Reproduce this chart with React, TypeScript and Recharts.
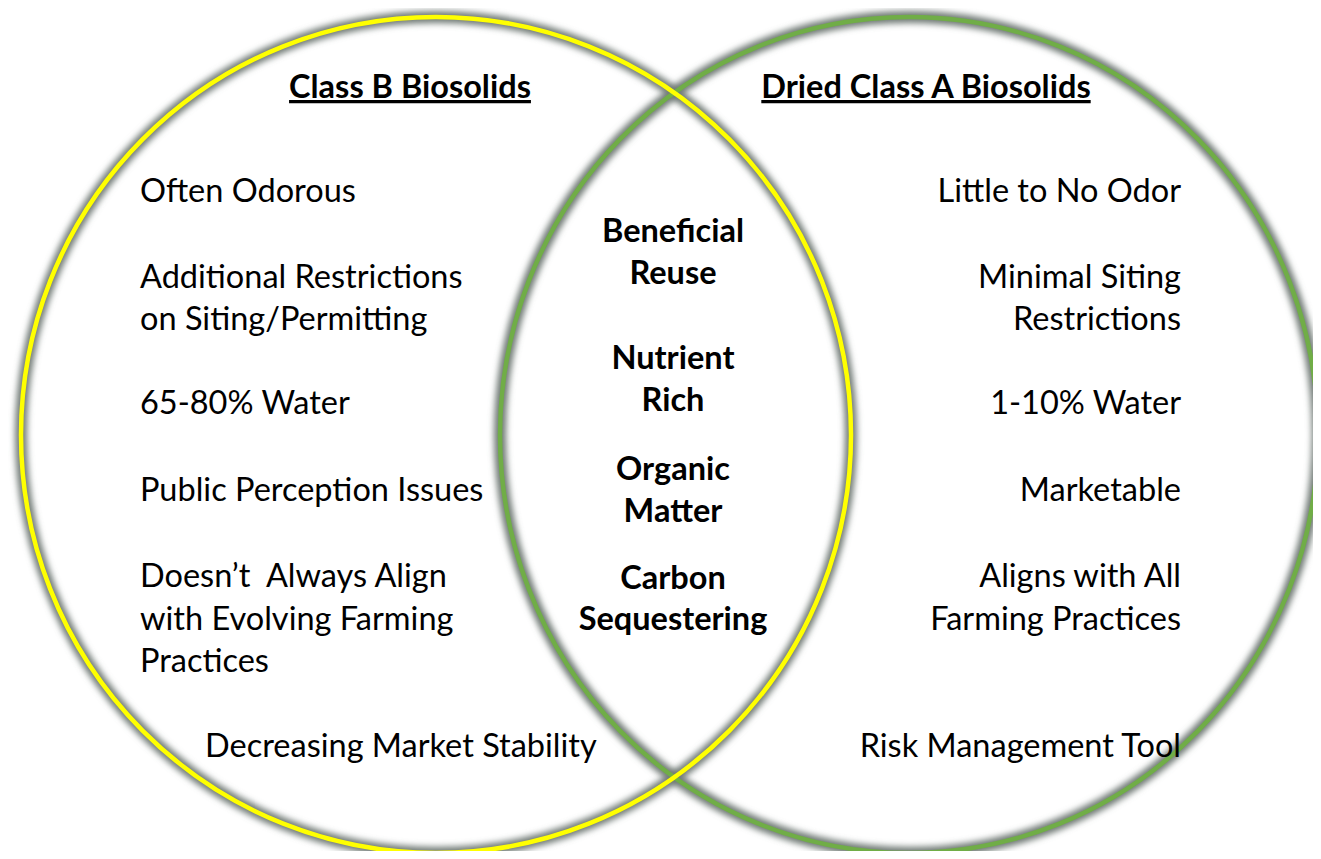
import React from 'react';
import { ScatterChart, Scatter, XAxis, YAxis } from 'recharts';

// chart units are pixels: x 0..1321, y 0..859 (top down)
const W = 1321;
const H = 859;

const circleNames = ['Class B Biosolids', 'Dried Class A Biosolids'];
const circleCx = [436, 909];
const circleCy = [435, 435];
const circleRx = [415, 409];
const circleRy = [418, 418];
const circleColors = ['#ffff00', '#70ad47'];

const titleX = [410, 926];
const titleY = 87;

const leftItems = [
  'Often Odorous',
  'Additional Restrictions',
  'on Siting/Permitting',
  '65-80% Water',
  'Public Perception Issues',
  'Doesn’t  Always Align',
  'with Evolving Farming',
  'Practices',
  'Decreasing Market Stability',
];
const leftRows = [191, 277, 319, 403, 490, 576, 619, 661, 746];
const leftX = [140, 140, 140, 140, 140, 140, 140, 140, 205];

const rightItems = [
  'Little to No Odor',
  'Minimal Siting',
  'Restrictions',
  '1-10% Water',
  'Marketable',
  'Aligns with All',
  'Farming Practices',
  'Risk Management Tool',
];
const rightRows = [191, 277, 319, 403, 490, 576, 619, 746];
const rightX = 1181;

const sharedItems = [
  'Beneficial',
  'Reuse',
  'Nutrient',
  'Rich',
  'Organic',
  'Matter',
  'Carbon',
  'Sequestering',
];
const sharedRows = [231, 273, 358, 400, 469, 511, 578, 619];
const sharedX = 673;

const FONT = 'Lato, "Open Sans", sans-serif';

const circleData = circleNames.map((name, i) => ({
  name,
  x: circleCx[i],
  y: circleCy[i],
  rx: circleRx[i],
  ry: circleRy[i],
  color: circleColors[i],
  idx: i,
}));

const titleData = circleNames.map((name, i) => ({ text: name, x: titleX[i], y: titleY }));
const leftData = leftItems.map((text, i) => ({ text, x: leftX[i], y: leftRows[i] }));
const rightData = rightItems.map((text, i) => ({ text, x: rightX, y: rightRows[i] }));
const sharedData = sharedItems.map((text, i) => ({ text, x: sharedX, y: sharedRows[i] }));

const ShadowRing = (props: any) => {
  const { cx, cy, payload } = props;
  const id = `blur-${payload.idx}`;
  return (
    <g>
      <defs>
        <filter id={id} x="-10%" y="-10%" width="120%" height="120%">
          <feGaussianBlur stdDeviation="3" />
        </filter>
      </defs>
      <ellipse
        cx={cx}
        cy={cy}
        rx={payload.rx}
        ry={payload.ry}
        fill="none"
        stroke="#6f7975"
        strokeWidth={12}
        filter={`url(#${id})`}
      />
    </g>
  );
};

const Ring = (props: any) => {
  const { cx, cy, payload } = props;
  return (
    <ellipse
      cx={cx}
      cy={cy}
      rx={payload.rx}
      ry={payload.ry}
      fill="none"
      stroke={payload.color}
      strokeWidth={4.5}
    />
  );
};

const makeText = (anchor: 'start' | 'middle' | 'end', bold: boolean, underline = false) =>
  (props: any) => {
    const { cx, cy, payload } = props;
    return (
      <text
        x={cx}
        y={cy + 11}
        textAnchor={anchor}
        fontFamily={FONT}
        fontSize={32.5}
        fontWeight={bold ? 700 : 400}
        fill="#000"
        textDecoration={underline ? 'underline' : undefined}
        style={{ whiteSpace: 'pre' }}
      >
        {payload.text}
      </text>
    );
  };

export default function App() {
  return (
    <div style={{ margin: -8, background: '#fff', width: W, height: H }}>
      <ScatterChart width={W} height={H} margin={{ top: 0, right: 0, bottom: 0, left: 0 }}>
        <XAxis type="number" dataKey="x" domain={[0, W]} hide />
        <YAxis type="number" dataKey="y" domain={[0, H]} reversed hide />
        <Scatter data={circleData} shape={ShadowRing} isAnimationActive={false} />
        <Scatter data={[circleData[1]]} shape={Ring} isAnimationActive={false} />
        <Scatter data={[circleData[0]]} shape={Ring} isAnimationActive={false} />
        <Scatter data={titleData} shape={makeText('middle', true, true)} isAnimationActive={false} />
        <Scatter data={leftData} shape={makeText('start', false)} isAnimationActive={false} />
        <Scatter data={rightData} shape={makeText('end', false)} isAnimationActive={false} />
        <Scatter data={sharedData} shape={makeText('middle', true)} isAnimationActive={false} />
      </ScatterChart>
    </div>
  );
}
